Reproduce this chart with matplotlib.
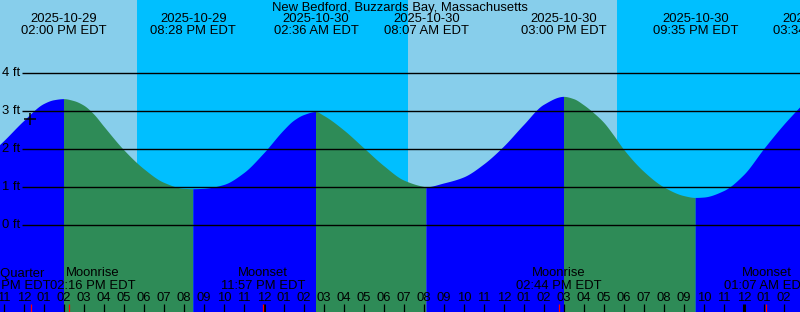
import numpy as np
import matplotlib
matplotlib.use("Agg")
import matplotlib.pyplot as plt
import matplotlib.transforms as mtransforms
import pandas as pd

plt.rcParams['font.family'] = ['Liberation Sans', 'DejaVu Sans']

title = "New Bedford, Buzzards Bay, Massachusetts"
origin = pd.Timestamp("2025-10-29 00:00")

# Tide height samples (feet, EDT)
tide_times = [
    "2025-10-29 10:48", "2025-10-29 11:00", "2025-10-29 12:00", "2025-10-29 13:00",
    "2025-10-29 13:30", "2025-10-29 14:00", "2025-10-29 14:30", "2025-10-29 15:00",
    "2025-10-29 15:30", "2025-10-29 16:00",
    "2025-10-29 17:00", "2025-10-29 18:00", "2025-10-29 19:00", "2025-10-29 20:00",
    "2025-10-29 20:28", "2025-10-29 21:00", "2025-10-29 22:00", "2025-10-29 23:00",
    "2025-10-30 00:00", "2025-10-30 01:00", "2025-10-30 01:30", "2025-10-30 02:00",
    "2025-10-30 02:36",
    "2025-10-30 03:00", "2025-10-30 04:00", "2025-10-30 05:00", "2025-10-30 06:00",
    "2025-10-30 07:00", "2025-10-30 08:00", "2025-10-30 08:07", "2025-10-30 09:00",
    "2025-10-30 10:00", "2025-10-30 11:00", "2025-10-30 12:00", "2025-10-30 13:00",
    "2025-10-30 14:00", "2025-10-30 15:00", "2025-10-30 15:30", "2025-10-30 16:00",
    "2025-10-30 16:30", "2025-10-30 17:00", "2025-10-30 17:30",
    "2025-10-30 18:00", "2025-10-30 19:00", "2025-10-30 20:00", "2025-10-30 21:00",
    "2025-10-30 21:35", "2025-10-30 22:00", "2025-10-30 23:00", "2025-10-31 00:00",
    "2025-10-31 01:00", "2025-10-31 02:00", "2025-10-31 02:48",
]
tide_feet = [
    2.11, 2.21, 2.74, 3.19,
    3.29, 3.32, 3.27, 3.15,
    2.92, 2.60,
    1.98, 1.48, 1.12, 0.96,
    0.95, 0.96, 1.06, 1.37,
    1.89, 2.50, 2.75, 2.90,
    2.98,
    2.88, 2.50, 2.03, 1.56,
    1.18, 1.01, 1.00, 1.10,
    1.26, 1.60, 2.07, 2.64,
    3.17, 3.38, 3.32, 3.16,
    2.95, 2.70, 2.36,
    1.99, 1.41, 1.00, 0.77,
    0.72, 0.73, 0.90, 1.32,
    2.00, 2.64, 3.10,
]

# High / low tide times (labelled at top)
extreme_times = ["2025-10-29 14:00", "2025-10-29 20:28", "2025-10-30 02:36",
                 "2025-10-30 08:07", "2025-10-30 15:00", "2025-10-30 21:35",
                 "2025-10-31 03:34"]

# Sun events
sunset_times = ["2025-10-29 17:39", "2025-10-30 17:39"]
sunrise_times = ["2025-10-30 07:12"]

# Moon events
moon_names = ["First Quarter", "Moonrise", "Moonset", "Moonrise", "Moonset"]
moon_times = ["2025-10-29 12:21", "2025-10-29 14:16", "2025-10-29 23:57",
              "2025-10-30 14:44", "2025-10-31 01:07"]
moon_label_shift_h = [-1.18, 1.18, 0.0, 0.0, 0.0]  # label displacement (layout)

# Current-time marker
mark_time = "2025-10-29 12:18"
mark_feet = 2.80

level_ticks = [0, 1, 2, 3, 4]

# ---------------------------------------------------------------
W, H = 800, 312
PX_PER_H = 20.0
X0 = 14.0 - 64 / PX_PER_H          # hours at left edge
X1 = X0 + W / PX_PER_H
Y_ZERO_PX, PX_PER_FT = 225.3, 38.0
YMAX = Y_ZERO_PX / PX_PER_FT
YMIN = (Y_ZERO_PX - H) / PX_PER_FT


def hrs(s):
    return (pd.Timestamp(s) - origin) / pd.Timedelta(hours=1)


def yfrac(px):
    return 1 - px / H


def pchip(x, y, xn):
    x = np.asarray(x, float); y = np.asarray(y, float)
    h = np.diff(x); d = np.diff(y) / h
    m = np.zeros_like(y)
    m[0], m[-1] = d[0], d[-1]
    for k in range(1, len(y) - 1):
        if d[k - 1] * d[k] <= 0:
            m[k] = 0.0
        else:
            w1 = 2 * h[k] + h[k - 1]; w2 = h[k] + 2 * h[k - 1]
            m[k] = (w1 + w2) / (w1 / d[k - 1] + w2 / d[k])
    i = np.clip(np.searchsorted(x, xn) - 1, 0, len(x) - 2)
    t = (xn - x[i]) / h[i]
    h00 = 2 * t**3 - 3 * t**2 + 1; h10 = t**3 - 2 * t**2 + t
    h01 = -2 * t**3 + 3 * t**2; h11 = t**3 - t**2
    return h00 * y[i] + h10 * h[i] * m[i] + h01 * y[i + 1] + h11 * h[i] * m[i + 1]


DAY = "#87CEEB"; NIGHT = "#00BFFF"; RISE = "#0000FF"; FALL = "#2E8B57"

fig = plt.figure(figsize=(8, 3.12), dpi=100)
ax = fig.add_axes([0, 0, 1, 1])
ax.set_xlim(X0, X1); ax.set_ylim(YMIN, YMAX)
ax.axis("off")
fs = 9.4
tr = mtransforms.blended_transform_factory(ax.transData, ax.transAxes)

# sky background
bounds = [X0] + sorted([hrs(s) for s in sunset_times + sunrise_times]) + [X1]
is_day = True  # chart starts in daytime
for a, b in zip(bounds[:-1], bounds[1:]):
    ax.axvspan(a, b, color=DAY if is_day else NIGHT, lw=0, zorder=0)
    is_day = not is_day

# tide fill
tx = np.array([hrs(s) for s in tide_times]); ty = np.array(tide_feet)
ext = [hrs(s) for s in extreme_times]
segb = [X0] + [e for e in ext if X0 < e < X1] + [X1]
for a, b in zip(segb[:-1], segb[1:]):
    xs = np.linspace(a, b, 400)
    ys = pchip(tx, ty, xs)
    col = RISE if ys[-1] > ys[0] else FALL
    ax.fill_between(xs, YMIN, ys, facecolor=col, edgecolor="none", lw=0, zorder=1)

# level lines and labels
ax.hlines(level_ticks, X0 + 22 / PX_PER_H, X1, colors="black", lw=1.0, zorder=3)
for lv in level_ticks:
    ax.text(X0 + 2 / PX_PER_H, lv, f"{lv} ft", ha="left", va="center",
            fontsize=fs, color="black", zorder=4)

# title and extreme labels
ax.text(0.5, yfrac(7.5), title, transform=ax.transAxes, ha="center", va="center",
        fontsize=fs, color="black", zorder=4)
for s in extreme_times:
    ts = pd.Timestamp(s)
    x = hrs(s)
    ax.text(x, yfrac(19.5), ts.strftime("%Y-%m-%d"), transform=tr, ha="center",
            va="center", fontsize=fs, zorder=4, clip_on=False)
    ax.text(x, yfrac(31.5), ts.strftime("%I:%M %p EDT"), transform=tr, ha="center",
            va="center", fontsize=fs, zorder=4, clip_on=False)

# hour ticks and labels
for hr in range(int(np.ceil(X0)), int(np.floor(X1)) + 1):
    h12 = hr % 12
    h12 = 12 if h12 == 0 else h12
    ax.text(hr, yfrac(298), f"{h12:02d}", transform=tr, ha="center", va="center",
            fontsize=fs, zorder=4)
    lw = 2.2 if hr % 24 == 0 else 0.9
    ax.plot([hr, hr], [yfrac(303.5), 0], transform=tr, color="black", lw=lw,
            zorder=5, solid_capstyle="butt")

# moon events
for name, s, sh in zip(moon_names, moon_times, moon_label_shift_h):
    ts = pd.Timestamp(s); x = hrs(s)
    ax.plot([x, x], [yfrac(303.5), 0], transform=tr, color="red", lw=0.9,
            zorder=6, solid_capstyle="butt")
    ax.text(x + sh, yfrac(273.5), name, transform=tr, ha="center", va="center",
            fontsize=fs, zorder=4)
    ax.text(x + sh, yfrac(286), ts.strftime("%I:%M %p EDT"), transform=tr,
            ha="center", va="center", fontsize=fs, zorder=4)

# current time marker
ax.plot([hrs(mark_time)], [mark_feet], marker="+", markersize=9, mew=1.1,
        color="black", zorder=7)

fig.savefig("out.png", dpi=100)
